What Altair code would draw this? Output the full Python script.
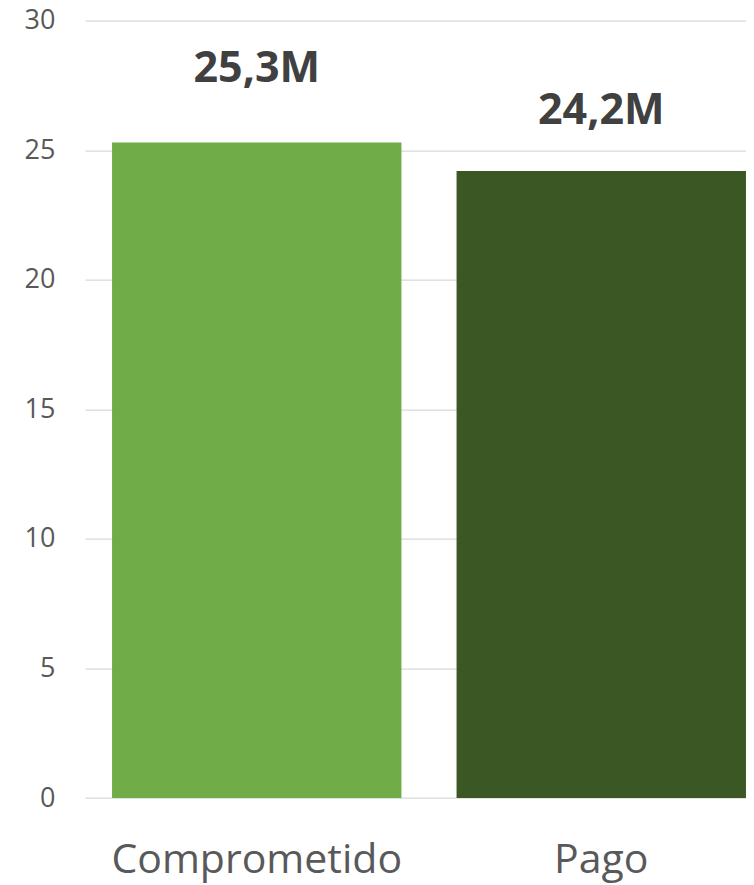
import altair as alt
import pandas as pd

categories = ["Comprometido", "Pago"]
values = [25.3, 24.2]
labels = ["25,3M", "24,2M"]
colors = ["#70AD47", "#3A5724"]

df = pd.DataFrame({"cat": categories, "val": values, "lab": labels})

x = alt.X("cat:N", sort=categories, title=None,
          scale=alt.Scale(domain=categories, range=[0, 688], paddingInner=0.16, paddingOuter=0.0785),
          axis=alt.Axis(labelAngle=0, labelFont="Open Sans", labelFontSize=41, labelColor="#595959",
                        labelBaseline="alphabetic", labelPadding=74, labelLimit=0,
                        ticks=False, domain=False))
y = alt.Y("val:Q", title=None,
          scale=alt.Scale(domain=[0, 30], nice=False, zero=True),
          axis=alt.Axis(values=[0, 5, 10, 15, 20, 25, 30], labelFont="Open Sans", labelFontSize=27,
                        labelColor="#595959", labelPadding=30, ticks=False, domain=False,
                        grid=True, gridColor="#D9D9D9", gridWidth=1.3))

base = alt.Chart(df)

bars = base.mark_bar().encode(
    x=x, y=y,
    color=alt.Color("cat:N", scale=alt.Scale(domain=categories, range=colors), legend=None),
)

t1 = base.transform_filter(alt.datum.cat == categories[0]).mark_text(
    font="Open Sans", fontWeight="bold", fontSize=43, color="#404040",
    baseline="alphabetic", dy=-60).encode(x=x, y=y, text="lab:N")
t2 = base.transform_filter(alt.datum.cat == categories[1]).mark_text(
    font="Open Sans", fontWeight="bold", fontSize=43, color="#404040",
    baseline="alphabetic", dy=-47).encode(x=x, y=y, text="lab:N")

chart = alt.layer(bars, t1, t2).properties(
    width=661, height=777.3,
    autosize=alt.AutoSizeParams(type="none"),
    padding={"left": 77, "top": 12.7, "right": 0, "bottom": 86},
).configure_view(stroke=None)

chart.save("out.html", embed_options={"renderer": "svg", "actions": False})
